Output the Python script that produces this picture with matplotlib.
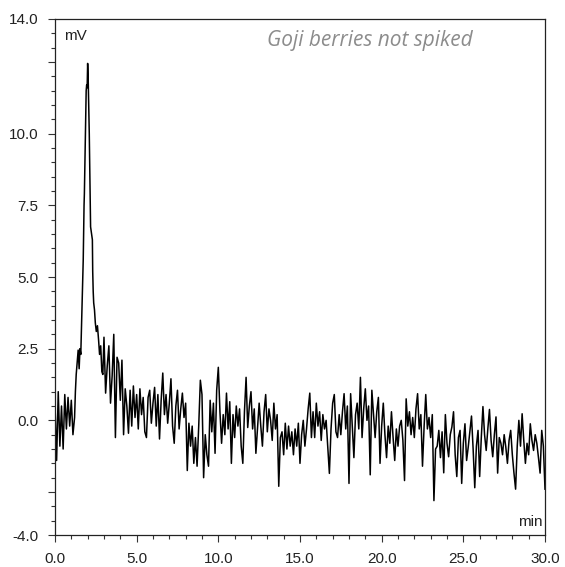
import numpy as np
import matplotlib.pyplot as plt
from matplotlib.ticker import MultipleLocator, FixedLocator, FixedFormatter

# detector signal (mV)
early_mv = [0.6, -1.4, 1.0, -0.9, 0.5, -1.0, 0.9, -0.3, 0.8, -0.2, 0.7, -0.5]

peak_time = [1.2, 1.25, 1.3, 1.37, 1.42, 1.48, 1.53, 1.58, 1.63, 1.68, 1.73, 1.78,
             1.8, 1.85, 1.88, 1.91, 1.94, 1.97, 2.0, 2.03, 2.1, 2.18, 2.24, 2.29,
             2.31, 2.34, 2.37, 2.42, 2.47, 2.53, 2.6, 2.67, 2.73, 2.8, 2.87, 2.93]
peak_mv = [0.1, 1.0, 1.6, 2.1, 2.45, 1.8, 2.5, 2.3, 3.4, 4.45, 5.6, 7.5,
           7.9, 9.5, 10.5, 11.5, 11.7, 11.6, 12.45, 12.0, 10.0, 6.75, 6.5, 6.3,
           5.2, 4.5, 4.1, 3.85, 3.4, 3.1, 3.3, 2.8, 2.3, 2.6, 1.7, 1.6]

late_mv = [
    2.9, 0.95, 1.9, 2.6, 0.6, 1.55, 3.0, -0.6, 2.2, 2.0,
    0.7, 2.1, -0.5, 1.1, 0.5, -0.45, 1.05, -0.2, 1.2, 0.1,
    0.9, -0.3, 1.1, 0.2, 0.8, -0.4, -0.6, 0.8, 1.05, -0.1,
    0.6, 1.15, -0.2, 0.9, -0.65, 0.7, 1.65, 0.2, 0.9, -0.1,
    0.6, 1.45, -0.2, -0.8, 0.5, 1.05, -0.3, 0.4, 0.95, 0.1,
    0.6, -1.75, -0.1, -0.9, -0.2, -1.5, -0.6, -1.6, -0.2, 1.4,
    0.9, -2.0, -0.5, -1.2, -1.6, 0.7, -0.4, 0.6, -1.15, 1.05,
    1.85, 0.3, -0.8, 0.2, -0.5, 0.95, -0.3, 0.65, -1.5, 0.2,
    -0.6, 0.5, -0.2, 0.4, -0.9, -1.5, 0.3, 1.5, -0.25, 0.5,
    1.0, -0.3, 0.4, -1.15, -0.3, 0.6, -0.2, -0.9, 0.3, 0.9,
    -0.4, 0.4, 0.0, -0.7, 0.6, -0.3, 0.2, -2.3, -0.6, -0.4,
    -1.2, -0.1, -1.0, -0.2, -0.9, -0.4, -1.2, -0.3, -0.9, -0.1,
    -1.5, -0.5, 0.0, -0.9, -0.3, 0.4, 0.95, -0.6, 0.3, -0.6,
    0.6, -0.2, 0.3, -0.7, 0.2, -0.3, 0.0, -0.9, -1.85, -0.3,
    0.6, 0.9, -0.4, -0.6, 0.2, -0.5, 0.3, 0.93, -0.3, 0.5,
    -2.2, 0.93, -0.2, -1.3, 0.2, 0.6, -0.3, 1.5, -0.6, 0.4,
    1.1, 0.0, 0.5, -1.9, 1.05, 0.2, -0.6, 0.3, 0.8, -1.5,
    -0.2, 0.6, -0.5, -1.3, -0.2, -0.8, 0.3, -0.6, -1.4, -0.3,
    -0.9, -0.2, 0.0, -0.7, -2.1, 0.75, -0.2, 0.3, -0.5, 0.1,
    -0.6, 0.4, 0.93, -0.3, 0.2, -1.6, -0.2, 0.9, -0.3, 0.1,
    -0.6, 0.2, -2.8, -1.0, -0.9, -0.35, -1.3, -0.4, -1.83, 0.2,
    -0.8, -1.27, -0.5, -0.23, 0.3, -1.2, -1.96, -0.6, -0.35, -2.2,
    -0.8, -0.12, -1.4, -0.93, -0.4, 0.15, -1.0, -2.35, -0.9, -0.35,
    -1.96, -0.6, 0.48, -0.5, -1.05, -0.3, 0.38, -0.7, -1.27, -0.5,
    0.12, -1.84, -0.6, -0.8, -1.2, -0.5, -0.93, -1.5, -0.7, -0.35,
    -1.2, -1.84, -2.4, -0.9, 0.0, -0.9, 0.23, -0.7, -1.5, -0.8,
    -1.2, -0.12, -0.7, -1.05, -0.5, -0.8, -1.3, -1.84, -0.35, -0.9,
    -2.4,
]

y_ticks = [-4.0, -2.5, 0.0, 2.5, 5.0, 7.5, 10.0, 12.5, 14.0]
y_labels = ['-4.0', '', '0.0', '2.5', '5.0', '7.5', '10.0', '', '14.0']

early_time = np.arange(len(early_mv)) * 0.1
late_time = np.arange(len(late_mv)) * 0.1 + 3.0
time = np.concatenate([early_time, peak_time, late_time])
signal = np.concatenate([early_mv, peak_mv, late_mv])

plt.rcParams['font.family'] = ['Liberation Sans', 'DejaVu Sans']

fig = plt.figure(figsize=(5.65, 5.67), dpi=100)
ax = fig.add_axes([0.0973, 0.0564, 0.8673, 0.9101])

ax.plot(time, signal, color='black', linewidth=1.1)

ax.set_xlim(0, 30)
ax.set_ylim(-4, 14)

ax.xaxis.set_major_locator(MultipleLocator(5))
ax.xaxis.set_minor_locator(MultipleLocator(1))
ax.xaxis.set_major_formatter(plt.FormatStrFormatter('%.1f'))
ax.yaxis.set_major_locator(FixedLocator(y_ticks))
ax.yaxis.set_major_formatter(FixedFormatter(y_labels))
ax.yaxis.set_minor_locator(MultipleLocator(0.5))

ax.tick_params(which='major', length=5, width=0.8, color='#333333',
               labelsize=11, labelcolor='#222222', pad=7)
ax.tick_params(which='minor', length=3, width=0.8, color='#333333')
for s in ax.spines.values():
    s.set_linewidth(0.9)
    s.set_color('#222222')

ax.text(0.018, 0.967, 'mV', transform=ax.transAxes, fontsize=11,
        color='#222222', ha='left', va='center')
ax.text(0.994, 0.012, 'min', transform=ax.transAxes, fontsize=11,
        color='#222222', ha='right', va='bottom')
ax.text(0.853, 0.958, 'Goji berries not spiked', transform=ax.transAxes,
        fontsize=15, style='italic', color='#8c8c8c', family='Open Sans',
        ha='right', va='center')

fig.savefig('out.png', dpi=100)
